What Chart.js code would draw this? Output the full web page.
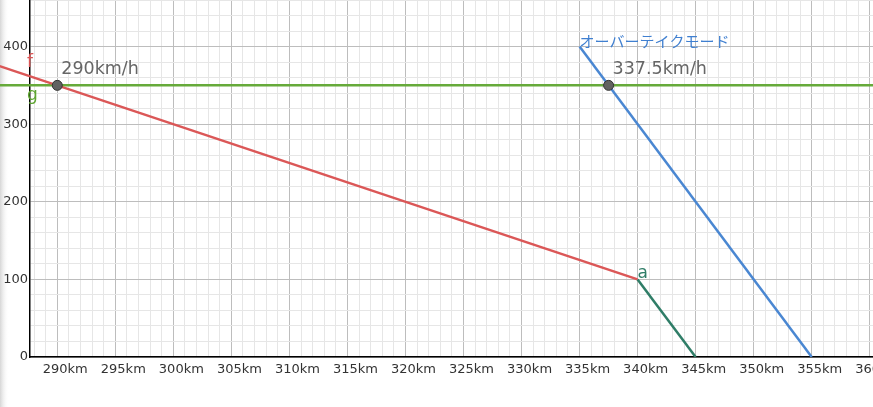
<!DOCTYPE html>
<html lang="ja">
<head>
    <meta charset="UTF-8">
    <title>オーバーテイクモード</title>
    <script src="https://cdn.jsdelivr.net/npm/chart.js"></script>
    <style>
        html, body { margin: 0; padding: 0; background: #fff; }
        canvas { display: block; }
    </style>
</head>
<body>
    <canvas id="chart" width="873" height="407"></canvas>
    <script>
        // distances (km) and speeds (km/h)
        const fX = [285, 340];          // red line f
        const fY = [375, 100];
        const gX = [285, 361];          // green line g (constant)
        const gY = [350, 350];
        const aX = [340, 345];          // teal segment a
        const aY = [100, 0];
        const otX = [335, 355];         // blue overtake line
        const otY = [400, 0];
        const crossX = [290, 337.5];    // intersection points
        const crossY = [350, 350];
        const crossLabels = ['290km/h', '337.5km/h'];

        const xMin = 287.65, xMax = 360.28;
        const yMin = 0, yMax = 460;

        const pts = (xs, ys) => xs.map((x, i) => ({ x: x, y: ys[i] }));

        const FONT = '"DejaVu Sans", sans-serif';

        const bgPlugin = {
            id: 'bg',
            beforeDraw(chart) {
                const c = chart.ctx;
                c.save();
                c.fillStyle = '#fff';
                c.fillRect(0, 0, chart.width, chart.height);
                const g = c.createLinearGradient(0, 0, 9, 0);
                g.addColorStop(0, '#d6d6d6');
                g.addColorStop(1, 'rgba(255,255,255,0)');
                c.fillStyle = g;
                c.fillRect(0, 0, 9, chart.height);
                c.restore();
            }
        };

        const labelPlugin = {
            id: 'labels',
            afterDatasetsDraw(chart) {
                const c = chart.ctx;
                const xs = chart.scales.x, ys = chart.scales.y;
                c.save();
                c.textBaseline = 'middle';
                c.textAlign = 'left';

                // speed labels next to the points
                c.font = '17.5px ' + FONT;
                c.fillStyle = '#666';
                crossX.forEach((v, i) => {
                    c.fillText(crossLabels[i], xs.getPixelForValue(v) + 4, ys.getPixelForValue(crossY[i]) - 16);
                });

                // object names
                c.font = '17px ' + FONT;
                c.fillStyle = '#d95454';
                c.fillText('f', xs.left - 3, ys.getPixelForValue(gY[0]) - 23);
                c.fillStyle = '#5fa532';
                c.fillText('g', xs.left - 3, ys.getPixelForValue(gY[0]) + 10);
                c.fillStyle = '#2f7d67';
                c.fillText('a', xs.getPixelForValue(aX[0]) + 0, ys.getPixelForValue(aY[0]) - 6);

                c.font = '15px "Noto Sans CJK JP", sans-serif';
                c.fillStyle = '#3f7fd0';
                c.fillText('オーバーテイクモード', xs.getPixelForValue(otX[0]) + 0, ys.getPixelForValue(otY[0]) - 5);
                c.restore();
            }
        };

        const gridColor = (major) => (ctx) => (ctx.tick && ctx.tick.value % major === 0) ? '#bdbdbd' : '#e6e6e6';

        new Chart(document.getElementById('chart'), {
            type: 'scatter',
            data: {
                datasets: [
                    { data: pts(crossX, crossY), showLine: false, pointRadius: 5, pointHoverRadius: 5,
                      backgroundColor: '#616161', borderColor: '#333', borderWidth: 1, order: 0 },
                    { data: pts(otX, otY), showLine: true, borderColor: '#4a87d2', borderWidth: 2.5,
                      pointRadius: 0, order: 1 },
                    { data: pts(aX, aY), showLine: true, borderColor: '#2f7d67', borderWidth: 2.5,
                      pointRadius: 0, order: 2 },
                    { data: pts(fX, fY), showLine: true, borderColor: '#db5757', borderWidth: 2.5,
                      pointRadius: 0, clip: false, order: 3 },
                    { data: pts(gX, gY), showLine: true, borderColor: '#66aa3a', borderWidth: 2.5,
                      pointRadius: 0, clip: false, order: 4 }
                ]
            },
            options: {
                responsive: false,
                animation: false,
                devicePixelRatio: 1,
                layout: { padding: 0, autoPadding: false },
                plugins: { legend: { display: false }, tooltip: { enabled: false } },
                scales: {
                    x: {
                        type: 'linear',
                        min: xMin, max: xMax,
                        grid: { color: gridColor(5), lineWidth: 1, drawTicks: false },
                        border: { color: '#000', width: 1.5 },
                        ticks: {
                            stepSize: 1, includeBounds: false, autoSkip: false, maxRotation: 0,
                            labelOffset: 8, padding: 5,
                            color: '#333', font: { family: FONT, size: 13 },
                            callback: (v) => v % 5 === 0 ? v + 'km' : ''
                        },
                        afterFit(s) { s.height = 50; s.paddingLeft = 0; s.paddingRight = 0; }
                    },
                    y: {
                        min: yMin, max: yMax,
                        grid: { color: gridColor(100), lineWidth: 1, drawTicks: false },
                        border: { color: '#000', width: 1.5 },
                        ticks: {
                            stepSize: 20, includeBounds: false, autoSkip: false, padding: 2,
                            color: '#333', font: { family: FONT, size: 13 },
                            callback: (v) => v % 100 === 0 ? v : ''
                        },
                        afterFit(s) { s.width = 30; s.paddingTop = 0; s.paddingBottom = 0; }
                    }
                }
            },
            plugins: [bgPlugin, labelPlugin]
        });
    </script>
</body>
</html>
